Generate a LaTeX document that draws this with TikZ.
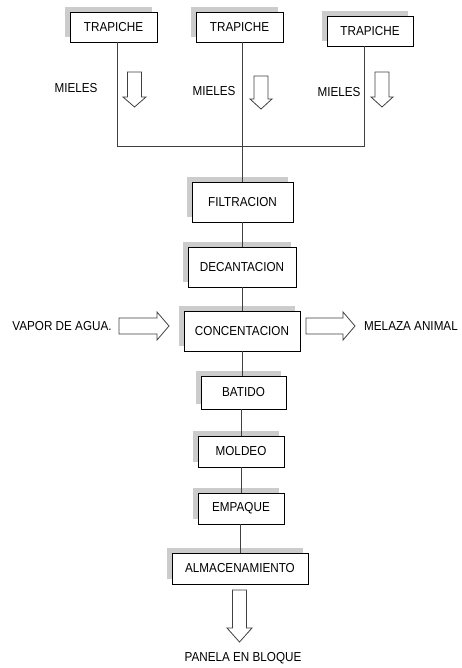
\documentclass[tikz,border=0pt]{standalone}
\usepackage{fontspec}
\setmainfont{Liberation Sans}[FakeStretch=0.9]
\usetikzlibrary{shadows}
\begin{document}
\begin{tikzpicture}[x=1pt,y=-1pt,
  every node/.style={font=\fontsize{13}{15}\selectfont, text=black},
  procbox/.style={draw=black, line width=0.8pt, fill=white, inner sep=0pt,
     drop shadow={shadow xshift=-5pt, shadow yshift=5pt, fill=gray!40, opacity=1}},
  link/.style={draw=black!75, line width=0.8pt},
  blockarr/.style={draw=black!75, fill=white, line width=0.8pt, line join=miter},
  lbl/.style={inner sep=0pt}]
\useasboundingbox (0,0) rectangle (461,668);

% top boxes
\node[procbox, minimum width=87, minimum height=30] (t1) at (113.5,27) {TRAPICHE};
\node[procbox, minimum width=87, minimum height=30] (t2) at (239.5,27) {TRAPICHE};
\node[procbox, minimum width=86, minimum height=30] (t3) at (370,31) {TRAPICHE};

% chain
\node[procbox, minimum width=101, minimum height=40] (fil) at (242.5,202) {FILTRACION};
\node[procbox, minimum width=108, minimum height=40] (dec) at (242,267) {DECANTACION};
\node[procbox, minimum width=116, minimum height=40] (con) at (242,331) {CONCENTACION};
\node[procbox, minimum width=85, minimum height=33] (bat) at (243.5,392.5) {BATIDO};
\node[procbox, minimum width=86, minimum height=31] (mol) at (241,451.5) {MOLDEO};
\node[procbox, minimum width=86, minimum height=31] (emp) at (241,508.5) {EMPAQUE};
\node[procbox, minimum width=136, minimum height=31] (alm) at (240,568.5) {ALMACENAMIENTO};

% labels
\node[lbl] (m1) at (76,88) {MIELES};
\node[lbl] (m2) at (214,91) {MIELES};
\node[lbl] (m3) at (339,92) {MIELES};
\node[lbl] (vap) at (62,326) {VAPOR DE AGUA.};
\node[lbl] (mel) at (411,326) {MELAZA ANIMAL};
\node[lbl] (pan) at (243,658) {PANELA EN BLOQUE};

% connectors
\coordinate (j1) at (117,146);
\coordinate (j3) at (364,146);
\coordinate (trunk) at (242.5,146);
\draw[link] (t1.south -| j1) -- (j1) -- (j3) -- (t3.south -| j3);
\draw[link] (t2.south -| trunk) -- (fil.north -| trunk);
\draw[link] (fil.south -| trunk) -- (dec.north -| trunk);
\draw[link] (dec.south -| trunk) -- (con.north -| trunk);
\draw[link] (con.south -| trunk) -- (bat.north -| trunk);
\coordinate (trunk2) at (241,400);
\draw[link] (bat.south -| trunk2) -- (mol.north -| trunk2);
\draw[link] (mol.south -| trunk2) -- (emp.north -| trunk2);
\coordinate (trunk3) at (240,500);
\draw[link] (emp.south -| trunk3) -- (alm.north -| trunk3);

% hollow block arrows (down)
\draw[blockarr, shift={(134.5,72)}] (-7,0) -- (7,0) -- (7,25) -- (11.5,25) -- (0,35) -- (-11.5,25) -- (-7,25) -- cycle;
\draw[blockarr, shift={(261,76)}] (-7,0) -- (7,0) -- (7,23) -- (11,23) -- (0,33) -- (-11,23) -- (-7,23) -- cycle;
\draw[blockarr, shift={(382,72)}] (-7,0) -- (7,0) -- (7,25) -- (11,25) -- (0,35) -- (-11,25) -- (-7,25) -- cycle;
\draw[blockarr, shift={(239.5,590)}] (-7,0) -- (7,0) -- (7,38) -- (12.5,38) -- (0,52) -- (-12.5,38) -- (-7,38) -- cycle;

% horizontal arrows
\draw[blockarr] (119,318) -- (157,318) -- (157,312) -- (169,326) -- (157,340) -- (157,334) -- (119,334) -- cycle;
\draw[blockarr] (306,318) -- (343,318) -- (343,312) -- (355,326) -- (343,340) -- (343,334) -- (306,334) -- cycle;
\end{tikzpicture}
\end{document}
